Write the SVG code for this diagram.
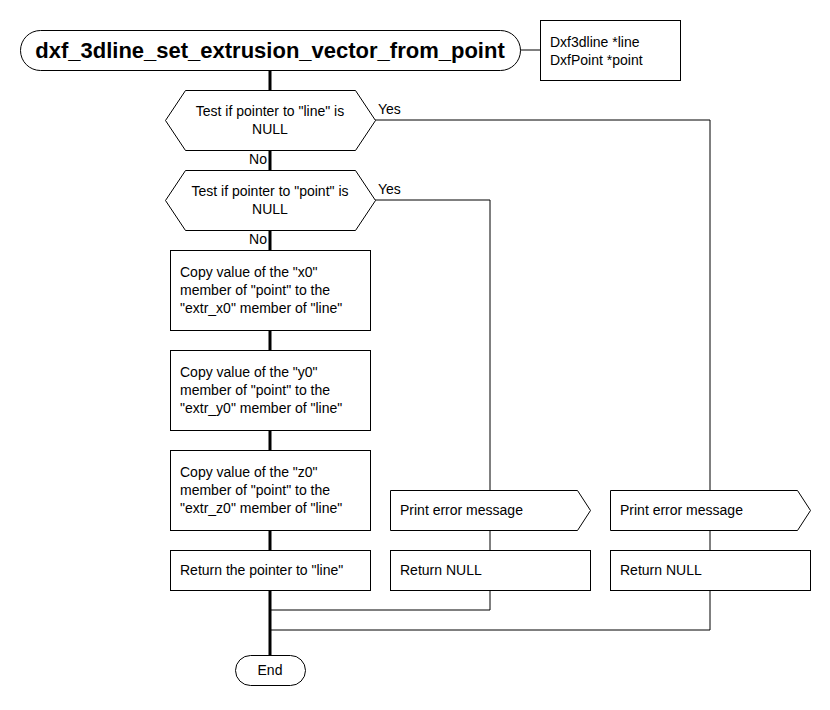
<svg xmlns="http://www.w3.org/2000/svg" width="830" height="710" viewBox="0 0 830 710">
<style>
.s{fill:#fff;stroke:#000;stroke-width:1}
.t{font-family:"Liberation Sans",Arial,sans-serif;font-size:14px;fill:#000}
.c{text-anchor:middle}
.thin{fill:none;stroke:#000;stroke-width:1}
.thick{fill:none;stroke:#000;stroke-width:3}
</style>
<rect width="830" height="710" fill="#fff"/>
<g id="connectors">
<path class="thick" d="M270 70V90M270 150V170M270 230V250M270 330V350M270 430V450M270 530V550M270 590V655"/>
<path class="thin" d="M520 50H540"/>
<path class="thin" d="M375 120H710V490M710 530V550M710 590V630H270"/>
<path class="thin" d="M375 200H490V490M490 530V550M490 590V610H270"/>
<text class="t" x="378" y="114">Yes</text>
<text class="t" x="378" y="194">Yes</text>
<text class="t" x="267" y="164" text-anchor="end">No</text>
<text class="t" x="267" y="244" text-anchor="end">No</text>
</g>
<g id="start">
<rect class="s" x="20.5" y="30.5" width="500" height="40" rx="20"/>
<text class="t c" x="270" y="58" style="font-size:22px;font-weight:bold">dxf_3dline_set_extrusion_vector_from_point</text>
</g>
<g id="params">
<rect class="s" x="540.5" y="20.5" width="140" height="60"/>
<text class="t" x="550" y="47">Dxf3dline *line</text>
<text class="t" x="550" y="65">DxfPoint *point</text>
</g>
<g id="dec1">
<polygon class="s" points="165.5,120.5 185.5,90.5 355.5,90.5 375.5,120.5 355.5,150.5 185.5,150.5"/>
<text class="t c" x="270" y="116">Test if pointer to "line" is</text>
<text class="t c" x="270" y="134">NULL</text>
</g>
<g id="dec2">
<polygon class="s" points="165.5,200.5 185.5,170.5 355.5,170.5 375.5,200.5 355.5,230.5 185.5,230.5"/>
<text class="t c" x="270" y="196">Test if pointer to "point" is</text>
<text class="t c" x="270" y="214">NULL</text>
</g>
<g id="copyx">
<rect class="s" x="170.5" y="250.5" width="200" height="80"/>
<text class="t" x="180" y="277">Copy value of the "x0"</text>
<text class="t" x="180" y="295">member of "point" to the</text>
<text class="t" x="180" y="313">"extr_x0" member of "line"</text>
</g>
<g id="copyy">
<rect class="s" x="170.5" y="350.5" width="200" height="80"/>
<text class="t" x="180" y="377">Copy value of the "y0"</text>
<text class="t" x="180" y="395">member of "point" to the</text>
<text class="t" x="180" y="413">"extr_y0" member of "line"</text>
</g>
<g id="copyz">
<rect class="s" x="170.5" y="450.5" width="200" height="80"/>
<text class="t" x="180" y="477">Copy value of the "z0"</text>
<text class="t" x="180" y="495">member of "point" to the</text>
<text class="t" x="180" y="513">"extr_z0" member of "line"</text>
</g>
<g id="retline">
<rect class="s" x="170.5" y="550.5" width="200" height="40"/>
<text class="t" x="180" y="575">Return the pointer to "line"</text>
</g>
<g id="err2">
<polygon class="s" points="390.5,490.5 577.5,490.5 590.5,510.5 577.5,530.5 390.5,530.5"/>
<text class="t" x="400" y="515">Print error message</text>
</g>
<g id="ret2">
<rect class="s" x="390.5" y="550.5" width="200" height="40"/>
<text class="t" x="400" y="575">Return NULL</text>
</g>
<g id="err1">
<polygon class="s" points="610.5,490.5 797.5,490.5 810.5,510.5 797.5,530.5 610.5,530.5"/>
<text class="t" x="620" y="515">Print error message</text>
</g>
<g id="ret1">
<rect class="s" x="610.5" y="550.5" width="200" height="40"/>
<text class="t" x="620" y="575">Return NULL</text>
</g>
<g id="end">
<rect class="s" x="235.5" y="655.5" width="70" height="30" rx="15"/>
<text class="t c" x="270" y="675">End</text>
</g>
</svg>
